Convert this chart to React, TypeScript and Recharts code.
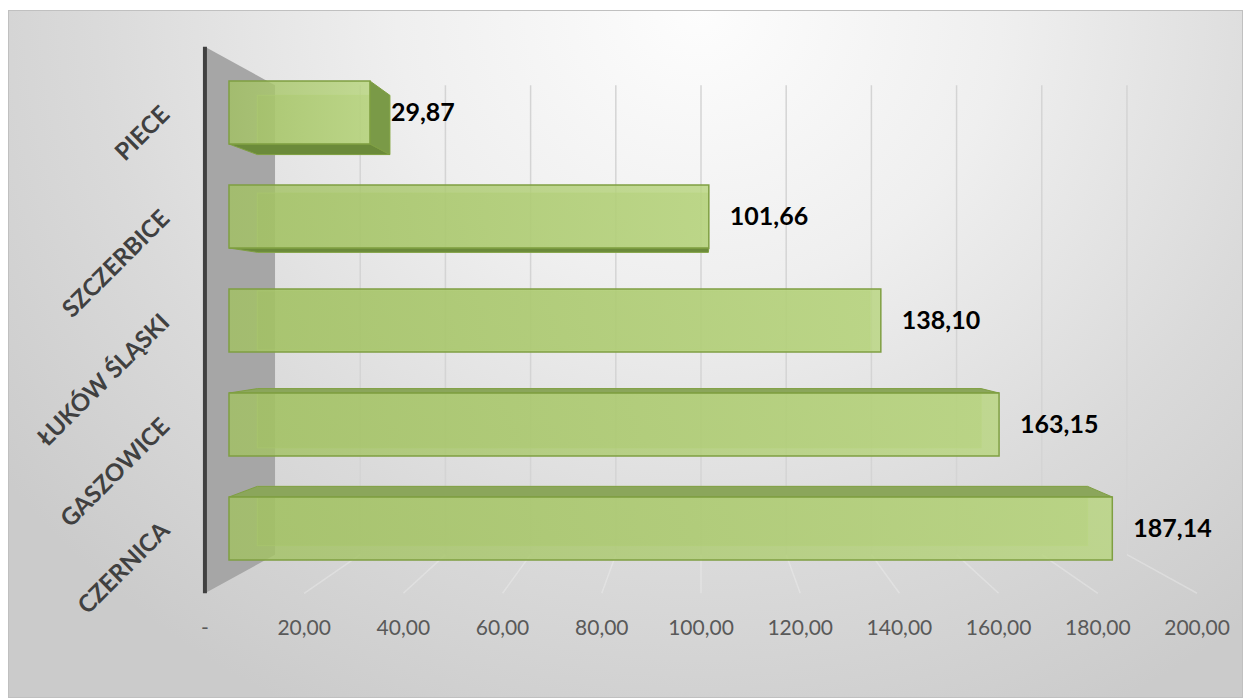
import React from 'react';
import { BarChart, Bar, XAxis, YAxis, ReferenceLine, LabelList } from 'recharts';

const categories = ['PIECE', 'SZCZERBICE', 'ŁUKÓW ŚLĄSKI', 'GASZOWICE', 'CZERNICA'];
const values = [29.87, 101.66, 138.1, 163.15, 187.14];
const xTicks = [0, 20, 40, 60, 80, 100, 120, 140, 160, 180, 200];

const data = categories.map((name, i) => ({ name, value: values[i] }));

const W = 1233;
const H = 686;
const Y_AXIS_W = 220;
const X_AXIS_H = 60;
const MARGIN = { top: 49, right: 69, bottom: 57, left: 0 };

const PLOT_L = MARGIN.left + Y_AXIS_W;
const PLOT_R = W - MARGIN.right;
const PLOT_T = MARGIN.top;
const PLOT_B = H - MARGIN.bottom - X_AXIS_H;

// vanishing point of the fake 3d view = centre of the plot
const VP_X = (PLOT_L + PLOT_R) / 2;
const VP_Y = (PLOT_T + PLOT_B) / 2;

// depth factors relative to the bar front plane
const FLOOR_FRONT = 1.051;
const BAR_BACK = 0.94;
const WALL_BACK = 0.9025;

const px = (x: number, s: number) => VP_X + s * (x - VP_X);
const py = (y: number, s: number) => VP_Y + s * (y - VP_Y);

const fmt = (v: number) => (v === 0 ? '-' : v.toFixed(2).replace('.', ','));

const yRange = (p: any) => {
  const a = Number.isFinite(p.y1) ? p.y1 : PLOT_T;
  const b = Number.isFinite(p.y2) ? p.y2 : PLOT_B;
  return [Math.min(a, b), Math.max(a, b)];
};

const WallGrid = (p: any) => {
  if (!Number.isFinite(p.x1)) return <g />;
  const [yt, yb] = yRange(p);
  const bx = px(p.x1, WALL_BACK);
  return (
    <g>
      <line x1={bx} y1={py(yt, WALL_BACK)} x2={bx} y2={py(yb, WALL_BACK)} stroke="#d4d4d4" strokeWidth={1.5} />
      <line
        x1={bx}
        y1={py(yb, WALL_BACK)}
        x2={px(p.x1, FLOOR_FRONT)}
        y2={py(yb, FLOOR_FRONT)}
        stroke="#f4f4f4"
        strokeOpacity={0.35}
        strokeWidth={1.5}
      />
    </g>
  );
};

const SideWall = (p: any) => {
  if (!Number.isFinite(p.x1)) return <g />;
  const [yt, yb] = yRange(p);
  const fx = px(p.x1, FLOOR_FRONT);
  const bx = px(p.x1, WALL_BACK);
  const pts = [
    [fx, py(yt, FLOOR_FRONT)],
    [bx, py(yt, WALL_BACK)],
    [bx, py(yb, WALL_BACK)],
    [fx, py(yb, FLOOR_FRONT)],
  ]
    .map((q) => q.join(','))
    .join(' ');
  return (
    <g>
      <polygon points={pts} fill="#a6a6a6" />
      <line x1={fx} y1={py(yt, FLOOR_FRONT)} x2={fx} y2={py(yb, FLOOR_FRONT)} stroke="#404040" strokeWidth={4} />
    </g>
  );
};

const poly = (pts: number[][], fill: string, extra: any = {}) => (
  <polygon points={pts.map((q) => q.join(',')).join(' ')} fill={fill} {...extra} />
);

const Bar3D = (p: any) => {
  const { x, y, width, height } = p;
  if (!Number.isFinite(x) || !Number.isFinite(width)) return <g />;
  const x0 = x;
  const x1 = x + width;
  const y0 = y;
  const y1 = y + height;
  const bx0 = px(x0, BAR_BACK);
  const bx1 = px(x1, BAR_BACK);
  const by0 = py(y0, BAR_BACK);
  const by1 = py(y1, BAR_BACK);
  const edge = '#7f9f42';
  return (
    <g>
      {/* back face, seen through the glassy front */}
      <rect x={bx0} y={by0} width={bx1 - bx0} height={by1 - by0} fill="#9fbd62" fillOpacity={0.45} stroke="#c2dc90" strokeOpacity={0.7} />
      {y1 < VP_Y - 4 && poly([[x0, y1], [x1, y1], [bx1, by1], [bx0, by1]], '#6b8a3a', { stroke: edge, strokeWidth: 1 })}
      {y0 > VP_Y + 4 && poly([[x0, y0], [x1, y0], [bx1, by0], [bx0, by0]], '#8ba65b', { stroke: edge, strokeWidth: 1 })}
      {x1 < VP_X && poly([[x1, y0], [bx1, by0], [bx1, by1], [x1, y1]], '#7a9a47', { stroke: edge, strokeWidth: 1 })}
      <rect x={x0} y={y0} width={width} height={height} fill="url(#barFront)" fillOpacity={0.82} stroke={edge} strokeWidth={1.5} />
    </g>
  );
};

const XTick = (p: any) => (
  <text x={px(p.x, FLOOR_FRONT)} y={p.y} dy="0.71em" textAnchor="middle" fill="#595959" fontSize={21}>
    {fmt(p.payload.value)}
  </text>
);

const YTick = (p: any) => {
  const ty = p.y + 4;
  return (
    <text
      x={p.x}
      y={ty}
      textAnchor="end"
      transform={`rotate(-45 ${p.x} ${ty})`}
      fill="#404040"
      fontSize={24}
      fontWeight="bold"
    >
      {p.payload.value}
    </text>
  );
};

export default function App() {
  return (
    <div style={{ paddingTop: 2 }}>
      <div
        style={{
          width: W,
          height: H,
          border: '1px solid #c0c0c0',
          background:
            'radial-gradient(ellipse 70% 115% at 56% 0%, #fdfdfd 0%, #efefef 35%, #dadada 70%, #cbcbcb 100%)',
          fontFamily: 'Lato, sans-serif',
        }}
      >
        <BarChart width={W} height={H} data={data} layout="vertical" margin={MARGIN}>
          <defs>
            <linearGradient id="barFront" x1="0" y1="0" x2="1" y2="0">
              <stop offset="0%" stopColor="#a2c163" />
              <stop offset="100%" stopColor="#b8d57f" />
            </linearGradient>
          </defs>
          <XAxis
            type="number"
            domain={[0, 200]}
            ticks={xTicks}
            interval={0}
            axisLine={false}
            tickLine={false}
            tickSize={0}
            tickMargin={40}
            height={X_AXIS_H}
            tick={(p: any) => <XTick {...p} />}
          />
          <YAxis
            type="category"
            dataKey="name"
            width={Y_AXIS_W}
            interval={0}
            axisLine={false}
            tickLine={false}
            tickSize={0}
            tickMargin={58}
            tick={(p: any) => <YTick {...p} />}
          />
          {xTicks
            .filter((v) => v > 0)
            .map((v) => (
              <ReferenceLine key={v} x={v} zIndex={-95} shape={(p: any) => <WallGrid {...p} />} />
            ))}
          <ReferenceLine x={0} zIndex={-90} shape={(p: any) => <SideWall {...p} />} />
          <Bar
            dataKey="value"
            barSize={63}
            isAnimationActive={false}
            shape={(p: any) => <Bar3D {...p} />}
          >
            <LabelList
              dataKey="value"
              position="right"
              offset={21}
              formatter={(v: any) => fmt(Number(v))}
              fill="#000000"
              fontSize={25}
              fontWeight="bold"
            />
          </Bar>
        </BarChart>
      </div>
    </div>
  );
}
